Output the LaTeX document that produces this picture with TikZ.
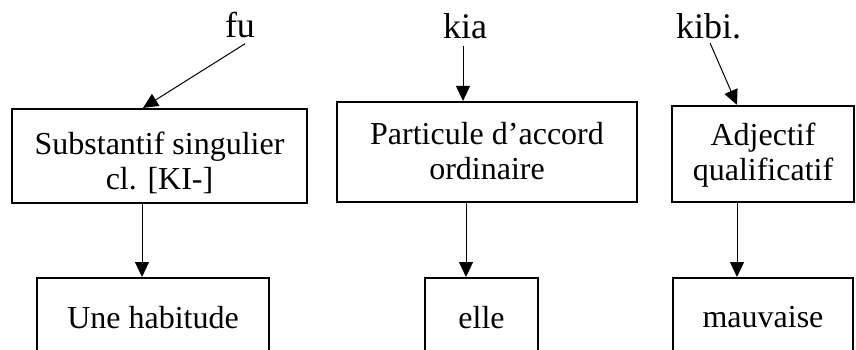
\documentclass[tikz,border=0pt]{standalone}
\usepackage{fontspec}
\setmainfont{Liberation Serif}
\usetikzlibrary{arrows.meta}

\tikzset{
    catbox/.style={draw, line width=1.1pt, inner sep=0pt},
    wordbox/.style={draw, line width=1.1pt, inner sep=0pt, anchor=north, minimum height=39pt},
    boxtext/.style={align=center, inner sep=0pt},
    word/.style={anchor=base, inner sep=0pt, font=\fontsize{18}{20}\selectfont},
    link/.style={-{Triangle[length=7.5pt,width=7pt]}, line width=0.5pt},
}

\begin{document}
\begin{tikzpicture}[x=0.5pt, y=-0.5pt, font=\fontsize{16}{17.5}\selectfont]
    \useasboundingbox (0,0) rectangle (856,349);
    \clip (0,0) rectangle (856,349);

    % words of the sentence
    \node[word] (fu) at (240,37) {fu};
    \node[word] (kia) at (465,38) {kia};
    \node[word] (kibi) at (708.5,38) {kibi.};

    % categories
    \node[catbox, minimum width=147.5pt, minimum height=47pt] (subst) at (159.5,156) {};
    \node[boxtext] (substtxt) at (159.5,163) {Substantif singulier\\cl. [KI-]};
    \node[catbox, minimum width=150pt, minimum height=50pt] (partic) at (487,152) {};
    \node[boxtext] (partictxt) at (487,151) {Particule d’accord\\ordinaire};
    \node[catbox, minimum width=91pt, minimum height=48pt] (adj) at (763,154) {};
    \node[boxtext] (adjtxt) at (763,155) {Adjectif\\qualificatif};

    % translations
    \node[wordbox, minimum width=116pt] (habit) at (153,277) {Une habitude};
    \node[wordbox, minimum width=56.5pt] (elle) at (481.5,277) {elle};
    \node[wordbox, minimum width=90pt] (mauv) at (763,277) {mauvaise};

    \draw[link] ([shift={(2.5pt,-3pt)}]fu.south) -- ([xshift=-8.25pt]subst.north);
    \draw[link] ([shift={(-1pt,-3.5pt)}]kia.south) -- ([xshift=-12pt]partic.north);
    \draw[link] ([shift={(0.75pt,-2pt)}]kibi.south) -- ([xshift=-13pt]adj.north);

    \draw[link] ([xshift=-8.75pt]subst.south) -- ([xshift=-5.5pt]habit.north);
    \draw[link] ([xshift=-10.5pt]partic.south) -- ([xshift=-7.75pt]elle.north);
    \draw[link] ([xshift=-13pt]adj.south) -- ([xshift=-13pt]mauv.north);
\end{tikzpicture}
\end{document}
